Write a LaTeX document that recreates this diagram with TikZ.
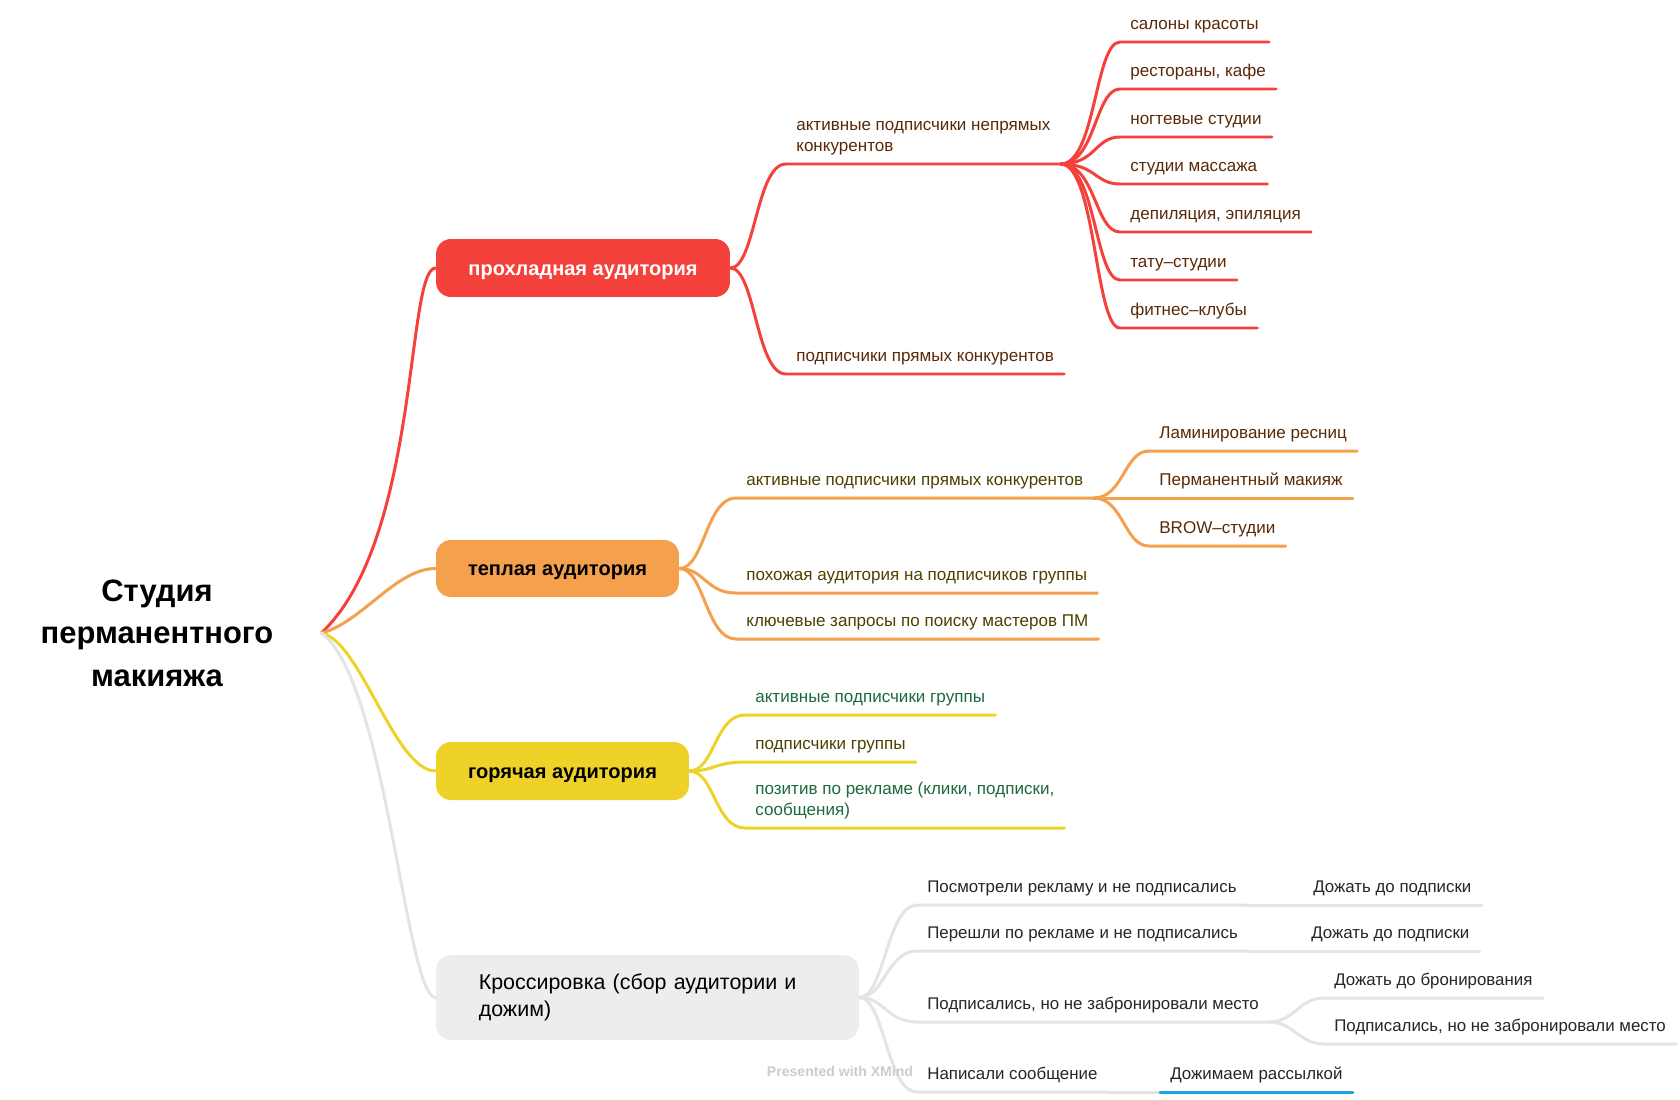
\documentclass[tikz,border=0pt]{standalone}
\usepackage{fontspec}
\setmainfont{Liberation Sans}
\definecolor{coolred}{HTML}{F5413C}
\definecolor{warmorange}{HTML}{F5A04C}
\definecolor{hotyellow}{HTML}{EFD227}
\definecolor{crossgrey}{HTML}{EDEDED}
\definecolor{crossline}{HTML}{E4E4E4}
\definecolor{brownink}{HTML}{5A2A08}
\definecolor{oliveink}{HTML}{4D4100}
\definecolor{greenink}{HTML}{1C6A3E}
\definecolor{markblue}{HTML}{1BA1E6}

\begin{document}
\begin{tikzpicture}[x=0.02cm,y=-0.02cm,
    root/.style={align=center,minimum width=6.56cm,
        font=\bfseries\fontsize{17.6}{24.2}\selectfont},
    topic/.style={rounded corners=0.3cm,minimum height=1.16cm,
        font=\bfseries\fontsize{11.4}{13.7}\selectfont},
    oneline/.style={text height=1.6ex,text depth=0pt},
    leaf/.style={anchor=south west,align=left,inner xsep=0.2cm,
        inner ysep=0.25cm,text depth=0pt,
        font=\fontsize{9.7}{11.9}\selectfont},
    greyleaf/.style={leaf,text=black!85,
        font=\fontsize{9.6}{11.7}\selectfont},
    branch/.style={line width=1.7pt,line cap=round}]
    \fill[white] (0,0) rectangle (1680,1099);
    \useasboundingbox (0,0) rectangle (1680,1099);

    % Центральная тема и четыре аудитории.
    \node[root] (studio) at (157,633) {Студия\\перманентного\\макияжа};
    \node[topic,oneline,fill=coolred,text=white,minimum width=5.88cm]
        (cool) at (583,268) {прохладная аудитория};
    \node[topic,oneline,fill=warmorange,minimum width=4.86cm,minimum height=1.14cm]
        (warm) at (557.5,568.5) {теплая аудитория};
    \node[topic,oneline,fill=hotyellow,minimum width=5.06cm]
        (hot) at (562.5,771) {горячая аудитория};
    \node[topic,fill=crossgrey,minimum width=8.46cm,minimum height=1.7cm,
        text width=6.75cm,align=left,font=\fontsize{12.2}{15.4}\selectfont]
        (cross) at (647.5,997.5) {Кроссировка (сбор аудитории и\\дожим)};

    \draw[branch,coolred] (studio.east) .. controls +(99,-93) and +(-30,0) .. (cool.west);
    \draw[branch,warmorange] (studio.east) .. controls +(40,-10) and +(-40,0) .. (warm.west);
    \draw[branch,hotyellow] (studio.east) .. controls +(39,7) and +(-41,0) .. (hot.west);
    \draw[branch,crossline] (studio.east) .. controls +(65,47) and +(-30,0) .. (cross.west);

    % Прохладная аудитория.
    \node[leaf,text=brownink] (ind) at (786,164) {активные подписчики непрямых\\конкурентов};
    \node[leaf,text=brownink] (direct) at (786,374) {подписчики прямых конкурентов};
    \node[leaf,text=brownink] (salon) at (1120,42) {салоны красоты};
    \node[leaf,text=brownink] (cafe) at (1120,89) {рестораны, кафе};
    \node[leaf,text=brownink] (nails) at (1120,137) {ногтевые студии};
    \node[leaf,text=brownink] (massage) at (1120,184) {студии массажа};
    \node[leaf,text=brownink] (depil) at (1120,232) {депиляция, эпиляция};
    \node[leaf,text=brownink] (tattoo) at (1120,280) {тату–студии};
    \node[leaf,text=brownink] (fitness) at (1120,328) {фитнес–клубы};

    \draw[branch,coolred] (cool.east) .. controls +(25,0) and +(-30,0) .. (ind.south west) -- (ind.south east);
    \draw[branch,coolred] (cool.east) .. controls +(25,0) and +(-30,0) .. (direct.south west) -- (direct.south east);
    \draw[branch,coolred] (ind.south east) .. controls +(35,0) and +(-25,0) .. (salon.south west) -- (salon.south east);
    \draw[branch,coolred] (ind.south east) .. controls +(35,0) and +(-25,0) .. (cafe.south west) -- (cafe.south east);
    \draw[branch,coolred] (ind.south east) .. controls +(35,0) and +(-25,0) .. (nails.south west) -- (nails.south east);
    \draw[branch,coolred] (ind.south east) .. controls +(35,0) and +(-25,0) .. (massage.south west) -- (massage.south east);
    \draw[branch,coolred] (ind.south east) .. controls +(35,0) and +(-25,0) .. (depil.south west) -- (depil.south east);
    \draw[branch,coolred] (ind.south east) .. controls +(35,0) and +(-25,0) .. (tattoo.south west) -- (tattoo.south east);
    \draw[branch,coolred] (ind.south east) .. controls +(35,0) and +(-25,0) .. (fitness.south west) -- (fitness.south east);

    % Теплая аудитория.
    \node[leaf,text=oliveink] (dirsubs) at (736,498) {активные подписчики прямых конкурентов};
    \node[leaf,text=oliveink] (similar) at (736,593) {похожая аудитория на подписчиков группы};
    \node[leaf,text=oliveink] (queries) at (736,639) {ключевые запросы по поиску мастеров ПМ};
    \node[leaf,text=brownink] (lamin) at (1149,451) {Ламинирование ресниц};
    \node[leaf,text=brownink] (pmu) at (1149,498) {Перманентный макияж};
    \node[leaf,text=brownink] (brow) at (1149,546) {BROW–студии};

    \draw[branch,warmorange] (warm.east) .. controls +(25,0) and +(-30,0) .. (dirsubs.south west) -- (dirsubs.south east);
    \draw[branch,warmorange] (warm.east) .. controls +(25,0) and +(-30,0) .. (similar.south west) -- (similar.south east);
    \draw[branch,warmorange] (warm.east) .. controls +(25,0) and +(-30,0) .. (queries.south west) -- (queries.south east);
    \draw[branch,warmorange] (dirsubs.south east) .. controls +(30,0) and +(-25,0) .. (lamin.south west) -- (lamin.south east);
    \draw[branch,warmorange] (dirsubs.south east) .. controls +(30,0) and +(-25,0) .. (pmu.south west) -- (pmu.south east);
    \draw[branch,warmorange] (dirsubs.south east) .. controls +(30,0) and +(-25,0) .. (brow.south west) -- (brow.south east);

    % Горячая аудитория.
    \node[leaf,text=greenink] (grpact) at (745,715) {активные подписчики группы};
    \node[leaf,text=oliveink] (grpsub) at (745,762) {подписчики группы};
    \node[leaf,text=greenink] (positive) at (745,828) {позитив по рекламе (клики, подписки,\\сообщения)};

    \draw[branch,hotyellow] (hot.east) .. controls +(25,0) and +(-30,0) .. (grpact.south west) -- (grpact.south east);
    \draw[branch,hotyellow] (hot.east) .. controls +(25,0) and +(-30,0) .. (grpsub.south west) -- (grpsub.south east);
    \draw[branch,hotyellow] (hot.east) .. controls +(25,0) and +(-30,0) .. (positive.south west) -- (positive.south east);

    % Кроссировка.
    \node[greyleaf] (viewed) at (917,905) {Посмотрели рекламу и не подписались};
    \node[greyleaf] (viewnext) at (1303,905) {Дожать до подписки};
    \node[greyleaf] (clicked) at (917,951) {Перешли по рекламе и не подписались};
    \node[greyleaf] (clicknext) at (1301,951) {Дожать до подписки};
    \node[greyleaf] (subbed) at (917,1022) {Подписались, но не забронировали место};
    \node[greyleaf] (bookit) at (1324,998) {Дожать до бронирования};
    \node[greyleaf] (subagain) at (1324,1044) {Подписались, но не забронировали место};
    \node[greyleaf] (wrote) at (917,1092) {Написали сообщение};
    \node[greyleaf] (mailing) at (1160,1092) {Дожимаем рассылкой};

    \draw[branch,crossline] (cross.east) .. controls +(25,0) and +(-30,0) .. (viewed.south west) -- (viewed.south east);
    \draw[branch,crossline] (cross.east) .. controls +(25,0) and +(-30,0) .. (clicked.south west) -- (clicked.south east);
    \draw[branch,crossline] (cross.east) .. controls +(25,0) and +(-30,0) .. (subbed.south west) -- (subbed.south east);
    \draw[branch,crossline] (cross.east) .. controls +(25,0) and +(-30,0) .. (wrote.south west) -- (wrote.south east);
    \draw[branch,crossline] (viewed.south east) -- (viewnext.south west) -- (viewnext.south east);
    \draw[branch,crossline] (clicked.south east) -- (clicknext.south west) -- (clicknext.south east);
    \draw[branch,crossline] (subbed.south east) .. controls +(25,0) and +(-25,0) .. (bookit.south west) -- (bookit.south east);
    \draw[branch,crossline] (subbed.south east) .. controls +(25,0) and +(-25,0) .. (subagain.south west) -- (subagain.south east);
    \draw[branch,crossline] (wrote.south east) -- (mailing.south west);
    \draw[branch,markblue] (mailing.south west) -- (mailing.south east);

    \node[text=black!20,font=\bfseries\fontsize{8}{10}\selectfont] (credit) at (840,1071) {Presented with XMind};
\end{tikzpicture}
\end{document}
